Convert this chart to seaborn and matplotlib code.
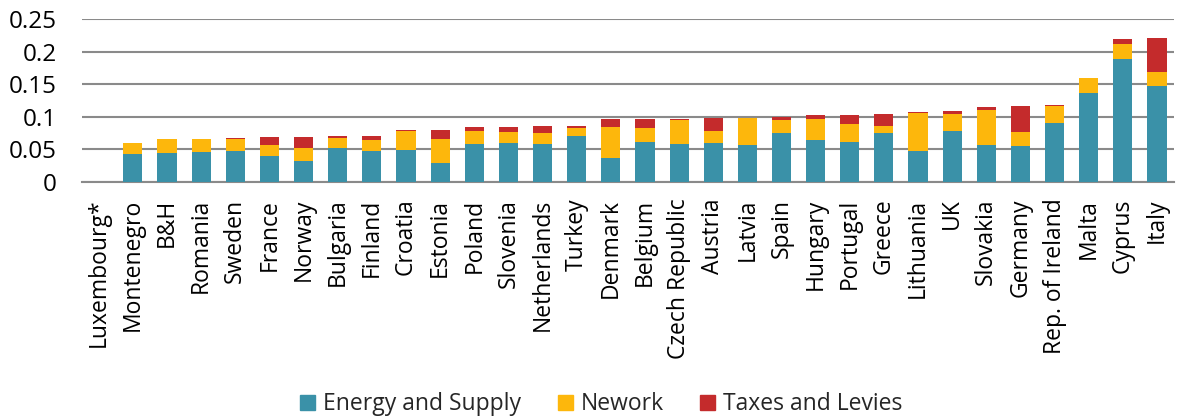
import pandas as pd
import numpy as np
import matplotlib
matplotlib.use("Agg")
import matplotlib.pyplot as plt
import matplotlib.patches as mpatches
import seaborn as sns

countries = ["Luxembourg*", "Montenegro", "B&H", "Romania", "Sweden", "France", "Norway",
             "Bulgaria", "Finland", "Croatia", "Estonia", "Poland", "Slovenia", "Netherlands",
             "Turkey", "Denmark", "Belgium", "Czech Republic", "Austria", "Latvia", "Spain",
             "Hungary", "Portugal", "Greece", "Lithuania", "UK", "Slovakia", "Germany",
             "Rep. of Ireland", "Malta", "Cyprus", "Italy"]

energy = [0.0, 0.043, 0.045, 0.046, 0.047, 0.040, 0.033, 0.052, 0.048, 0.049, 0.029,
          0.0585, 0.060, 0.0585, 0.070, 0.037, 0.0615, 0.058, 0.0595, 0.057, 0.076,
          0.0645, 0.0615, 0.0755, 0.048, 0.0785, 0.0565, 0.056, 0.091, 0.1375, 0.189, 0.148]
network = [0.0, 0.0175, 0.0205, 0.020, 0.0195, 0.0165, 0.020, 0.016, 0.016, 0.030, 0.037,
           0.0205, 0.0165, 0.0175, 0.0135, 0.047, 0.022, 0.0375, 0.019, 0.042, 0.0195,
           0.0325, 0.0275, 0.011, 0.058, 0.0255, 0.0545, 0.0205, 0.026, 0.022, 0.0235, 0.021]
taxes = [0.0, 0.0, 0.0, 0.0, 0.0008, 0.0125, 0.0155, 0.002, 0.007, 0.001, 0.0146,
         0.005, 0.0075, 0.0097, 0.003, 0.0125, 0.0128, 0.0015, 0.0195, 0.0, 0.0046,
         0.0067, 0.0147, 0.0185, 0.001, 0.0048, 0.005, 0.040, 0.002, 0.0, 0.0077, 0.0527]

series_names = ["Energy and Supply", "Nework", "Taxes and Levies"]
colors = ["#3A91A8", "#FDB70C", "#C42B2C"]

df = pd.DataFrame({"country": countries, "energy": energy, "network": network, "taxes": taxes})
df["lvl1"] = df["energy"]
df["lvl2"] = df["energy"] + df["network"]
df["lvl3"] = df["lvl2"] + df["taxes"]

sns.set_style("white")
plt.rcParams["font.family"] = ["Open Sans", "DejaVu Sans"]

fig = plt.figure(figsize=(11.84, 4.19), dpi=100)
ax = fig.add_axes([0.069, 0.5656, 0.9226, 0.3884])

gridc = "#8a8a8a"
# stacked look: draw cumulative totals back to front
for col, c in zip(["lvl3", "lvl2", "lvl1"], colors[::-1]):
    sns.barplot(data=df, x="country", y=col, color=c, width=0.56, ax=ax,
                saturation=1, linewidth=0, zorder=3)

ax.set_ylim(0, 0.25)
ax.set_yticks([0, 0.05, 0.1, 0.15, 0.2, 0.25])
ax.set_yticklabels(["0", "0.05", "0.1", "0.15", "0.2", "0.25"], fontsize=17.5)
ax.set_xlim(-0.5, len(countries) - 0.5)
ax.set_xticks(range(len(countries)))
ax.set_xticklabels(countries, rotation=90, fontsize=16.5)
ax.set_xlabel("")
ax.set_ylabel("")
ax.yaxis.grid(True, color=gridc, linewidth=1.5, zorder=0)
ax.set_axisbelow(True)
for s in ["top", "right", "left"]:
    ax.spines[s].set_visible(False)
ax.spines["bottom"].set_color(gridc)
ax.spines["bottom"].set_linewidth(1.5)
ax.tick_params(axis="x", length=0, pad=12, colors="black")
ax.tick_params(axis="y", length=0, pad=18, colors="black")

handles = [mpatches.Patch(color=c, label=n) for c, n in zip(colors, series_names)]
fig.legend(handles=handles, loc="center", bbox_to_anchor=(0.508, 0.035), ncol=3,
           frameon=False, fontsize=16.5, handlelength=0.65, handleheight=0.65,
           columnspacing=1.6, handletextpad=0.35)

fig.savefig("out.png", dpi=100)
